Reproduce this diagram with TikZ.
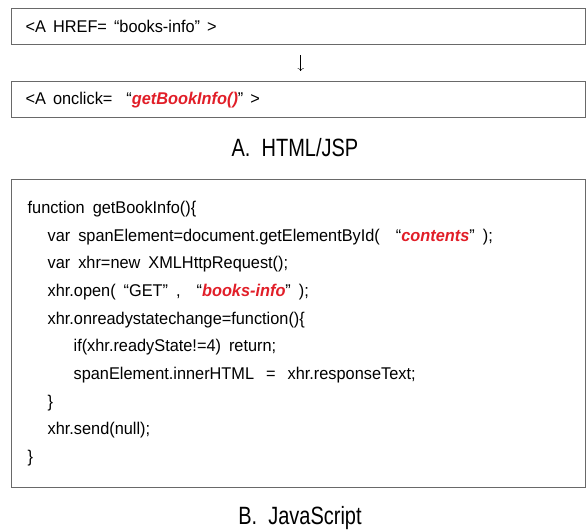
\documentclass[tikz,border=0pt]{standalone}
\usepackage{fontspec}
\setmainfont[FakeStretch=0.96]{Liberation Sans}
\newfontfamily\capfont[FakeStretch=0.8]{Liberation Sans}
\definecolor{boxline}{RGB}{105, 105, 105}
\definecolor{hilite}{RGB}{225, 30, 40}
\usetikzlibrary{arrows.meta, positioning}

\newcommand{\hl}[1]{{\color{hilite}\bfseries\itshape #1}}
\newcommand{\widegaps}[1]{\spaceskip=#1\relax}

\begin{document}
\begin{tikzpicture}[x=1pt, y=1pt,
    tagbox/.style={draw=boxline, line width=1.3pt, minimum width=574pt, minimum height=36pt,
        text width=546pt, inner xsep=14pt, align=left, anchor=north west,
        font=\fontsize{17}{18}\selectfont, execute at begin node=\widegaps{7pt}},
    codebox/.style={draw=boxline, line width=1.3pt, minimum width=574pt, minimum height=308pt,
        text width=542pt, inner xsep=16pt, align=left, anchor=north west,
        font=\fontsize{17}{27.7}\selectfont, execute at begin node=\widegaps{8pt}},
    caption/.style={font=\capfont\fontsize{25}{28}\selectfont}]
    % page frame
    \useasboundingbox (0,0) rectangle (586,-530);

    % A. HTML/JSP
    \node[tagbox] (hrefbox) at (11,-8) {<A HREF= “books-info” >};
    \node[tagbox] (clickbox) at (11,-81) {<A onclick= \ “\hl{getBookInfo()}” >};
    \draw[-{To[length=3pt]}, black, thin, shorten <=10pt, shorten >=10pt]
        ([xshift=2pt]hrefbox.south) -- ([xshift=2pt]clickbox.north);
    \node[caption] (capA) at (295,-148) {A. \ HTML/JSP};

    % B. JavaScript
    \node[codebox] (codebox) at (11,-179) {%
        function getBookInfo()\{\\
        \hspace*{20pt}var spanElement=document.getElementById( \ “\hl{contents}” );\\
        \hspace*{20pt}var xhr=new XMLHttpRequest();\\
        \hspace*{20pt}xhr.open( “GET” , \ “\hl{books-info}” );\\
        \hspace*{20pt}xhr.onreadystatechange=function()\{\\
        \hspace*{46pt}if(xhr.readyState!=4) return;\\
        \hspace*{46pt}spanElement.innerHTML \hspace{4pt}= \hspace{4pt}xhr.responseText;\\
        \hspace*{20pt}\}\\
        \hspace*{20pt}xhr.send(null);\\
        \}};
    \node[caption] (capB) at (300,-518) {B. \ JavaScript};
\end{tikzpicture}
\end{document}
